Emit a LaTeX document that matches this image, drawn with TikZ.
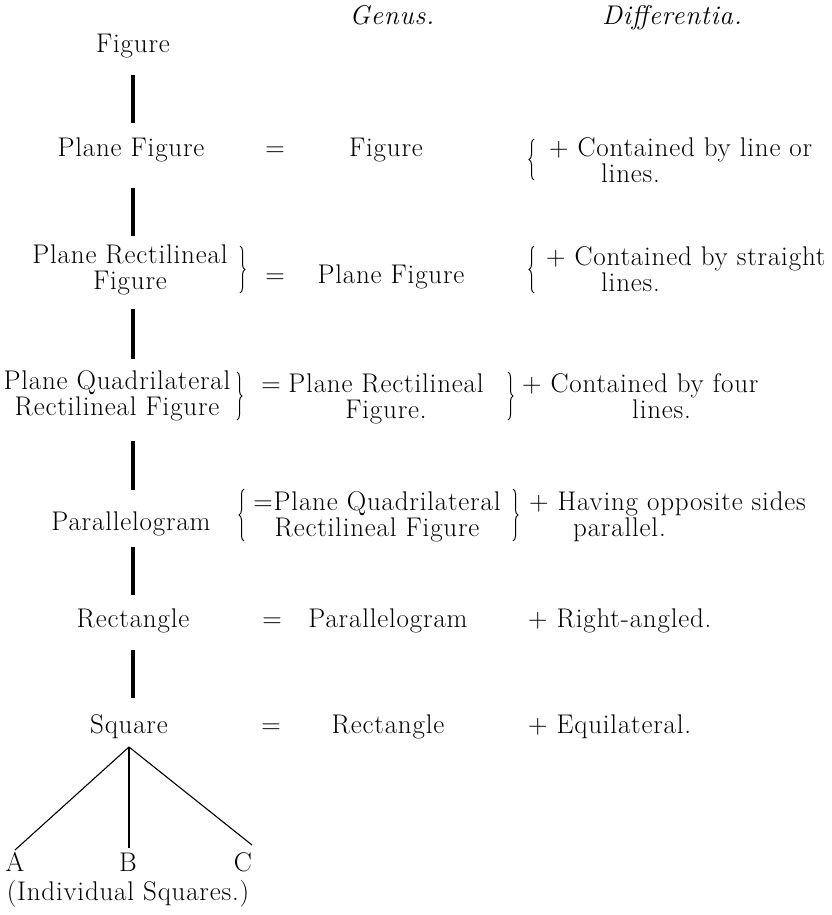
\documentclass[tikz,border=0pt]{standalone}
\usepackage{fontspec}
\setmainfont{Latin Modern Roman}[LetterSpace=3]
\usetikzlibrary{positioning,decorations.pathreplacing}

\tikzset{
  txt/.style={font=\fontsize{27}{26}\selectfont, inner sep=0pt, anchor=base},
  head/.style={txt, font=\fontsize{27}{26}\selectfont\itshape},
  twoline/.style={txt, align=center},
  diff/.style={txt, anchor=base west, align=left},
  stem/.style={line width=3.5pt},
  branch/.style={line width=1.1pt},
  lbrace/.style={decorate, decoration={brace, amplitude=5pt}, line width=1pt},
}

\begin{document}
\begin{tikzpicture}[x=1pt, y=-1pt]
\useasboundingbox (0,0) rectangle (831,915);

% column heads
\node[head] (genus) at (392,25) {Genus.};
\node[head] (differentia) at (672,25) {Differentia.};

% the species, one below the other (two-line nodes sit on their last line)
\node[txt] (fig) at (133,53) {Figure};
\node[txt] (pfig) at (131,157) {Plane Figure};
\node[twoline] (prect) at (130,289) {Plane Rectilineal\\Figure};
\node[twoline] (pquad) at (117,415) {Plane Quadrilateral\\Rectilineal Figure};
\node[txt] (para) at (131,530) {Parallelogram};
\node[txt] (rect) at (133,627) {Rectangle};
\node[txt] (sq) at (129,733) {Square};

% stems
\draw[stem] ([yshift=-22pt]fig.base) -- ([yshift=34pt]pfig.base -| fig.base);
\draw[stem] ([yshift=-31pt]pfig.base -| fig.base) -- ([yshift=53pt]prect.base -| fig.base);
\draw[stem] ([yshift=-20pt]prect.base -| fig.base) -- ([yshift=56pt]pquad.base -| fig.base);
\draw[stem] ([yshift=-26pt]pquad.base -| fig.base) -- ([yshift=40pt]para.base -| fig.base);
\draw[stem] ([yshift=-17pt]para.base -| fig.base) -- ([yshift=32pt]rect.base -| fig.base);
\draw[stem] ([yshift=-23pt]rect.base -| fig.base) -- ([yshift=35pt]sq.base -| fig.base);

% equals signs
\node[txt] (eq2) at (275,157) {=};
\node[txt] (eq3) at (275,283) {=};
\node[txt] (eq4) at (271,392) {=};
\node[txt] (eq6) at (272,627) {=};
\node[txt] (eq7) at (271,733) {=};

% genus column
\node[txt] (gen2) at (386,157) {Figure};
\node[txt] (gen3) at (391,283) {Plane Figure};
\node[twoline] (gen4) at (386,418) {Plane Rectilineal\\Figure.};
\node[twoline] (gen5) at (377,536) {=Plane Quadrilateral\\Rectilineal Figure};
\node[txt] (gen6) at (388,627) {Parallelogram};
\node[txt] (gen7) at (388,733) {Rectangle};

% differentia column
\node[diff] (dif2) at (549,182) {+ Contained by line or\\\hspace*{52pt}lines.};
\node[diff] (dif3) at (546,291) {+ Contained by straight\\\hspace*{55pt}lines.};
\node[diff] (dif4) at (522,418) {+ Contained by four\\\hspace*{110pt}lines.};
\node[diff] (dif5) at (529,536) {+ Having opposite sides\\\hspace*{44pt}parallel.};
\node[diff] (dif6) at (528,627) {+ Right-angled.};
\node[diff] (dif7) at (528,733) {+ Equilateral.};

% braces
\draw[lbrace] (534,180) -- (534,139);
\draw[lbrace] (534,293) -- (534,246);
\draw[lbrace] (240,246) -- (240,293);
\draw[lbrace] (237,372) -- (237,420);
\draw[lbrace] (508,372) -- (508,420);
\draw[lbrace] (244,541) -- (244,489);
\draw[lbrace] (513,489) -- (513,541);

% individual squares
\node[txt] (A) at (15,871) {A};
\node[txt] (B) at (128,871) {B};
\node[txt] (C) at (243,871) {C};
\node[txt] (note) at (128,900) {(Individual Squares.)};
\draw[branch] ([yshift=-14pt]sq.base) -- ([yshift=21pt]A.base);
\draw[branch] ([yshift=-14pt]sq.base) -- ([yshift=23pt]B.base -| sq.base);
\draw[branch] ([yshift=-14pt]sq.base) -- ([xshift=9pt,yshift=26pt]C.base);
\end{tikzpicture}
\end{document}
